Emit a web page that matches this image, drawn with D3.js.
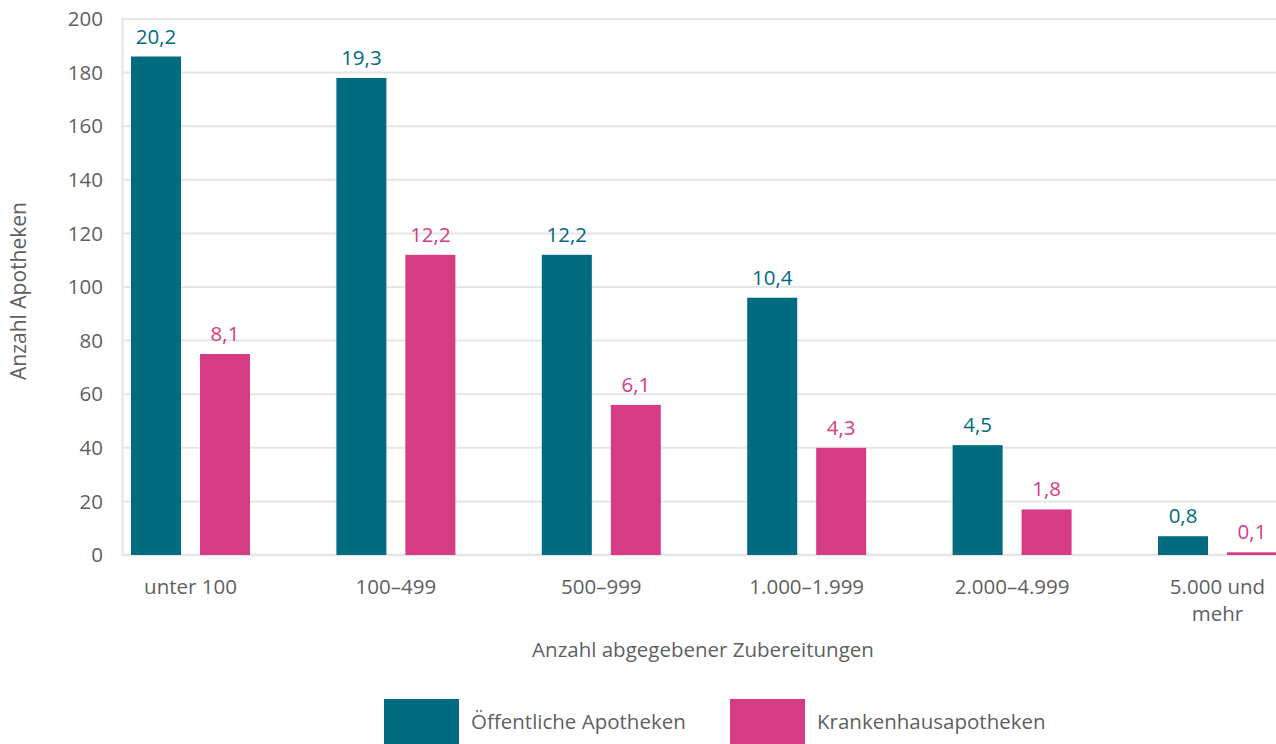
<!DOCTYPE html>
<html>
<head>
<meta charset="utf-8">
<script src="https://cdn.jsdelivr.net/npm/d3@7"></script>
<style>
  body { margin: 0; background: #fff; }
  svg { display: block; font-family: "Open Sans", sans-serif; }
</style>
</head>
<body>
<div id="chart"></div>
<script>
// Daten
var categories = ['unter 100', '100–499', '500–999', '1.000–1.999', '2.000–4.999', '5.000 und\nmehr'];
var seriesNames = ['Öffentliche Apotheken', 'Krankenhausapotheken'];
var oeffentlich = [186, 178, 112, 96, 41, 7];
var krankenhaus = [75, 112, 56, 40, 17, 1];
var oeffentlichLabels = ['20,2', '19,3', '12,2', '10,4', '4,5', '0,8'];
var krankenhausLabels = ['8,1', '12,2', '6,1', '4,3', '1,8', '0,1'];
var yTicks = [0, 20, 40, 60, 80, 100, 120, 140, 160, 180, 200];

var colors = ['#016c7f', '#d63c83'];
var W = 1276, H = 744;

var svg = d3.select('#chart').append('svg')
  .attr('width', W)
  .attr('height', H);

var y = d3.scaleLinear().domain([0, 200]).range([555, 19]);

var x0 = d3.scaleBand().domain(categories).range([87.8, 87.8 + 6 * 205.4]);
var x1 = d3.scaleBand().domain(seriesNames).range([x0.bandwidth() / 2 - 59.5, x0.bandwidth() / 2 + 59.5]).paddingInner(0.275);

// Gitterlinien
svg.append('g').selectAll('line')
  .data(yTicks)
  .join('line')
  .attr('x1', 122).attr('x2', W)
  .attr('y1', function(d) { return y(d); })
  .attr('y2', function(d) { return y(d); })
  .style('stroke', '#e6e6e6')
  .style('stroke-width', function(d) { return d === 0 ? 2.5 : 2; });

// y-Achse Linie
svg.append('line')
  .attr('x1', 122.5).attr('x2', 122.5)
  .attr('y1', y(200)).attr('y2', y(0) + 1)
  .style('stroke', '#e6e6e6')
  .style('stroke-width', 2);

// y-Achse Beschriftung
svg.append('g').selectAll('text')
  .data(yTicks)
  .join('text')
  .attr('x', 103)
  .attr('y', function(d) { return y(d); })
  .attr('dy', '0.35em')
  .attr('text-anchor', 'end')
  .style('font-size', '20.5px')
  .style('fill', '#5f5f5f')
  .text(function(d) { return d; });

svg.append('text')
  .attr('transform', 'translate(26,291) rotate(-90)')
  .attr('text-anchor', 'middle')
  .style('font-size', '21px')
  .style('fill', '#5f5f5f')
  .text('Anzahl Apotheken');

// Balken
var rows = categories.map(function(c, i) {
  return [
    { cat: c, s: seriesNames[0], v: oeffentlich[i], label: oeffentlichLabels[i], color: colors[0] },
    { cat: c, s: seriesNames[1], v: krankenhaus[i], label: krankenhausLabels[i], color: colors[1] }
  ];
});

var groups = svg.append('g').selectAll('g')
  .data(rows)
  .join('g')
  .attr('transform', function(d) { return 'translate(' + x0(d[0].cat) + ',0)'; });

groups.selectAll('rect')
  .data(function(d) { return d; })
  .join('rect')
  .attr('x', function(d) { return x1(d.s); })
  .attr('y', function(d) { return y(d.v); })
  .attr('width', x1.bandwidth())
  .attr('height', function(d) { return y(0) - y(d.v); })
  .style('fill', function(d) { return d.color; });

groups.selectAll('text')
  .data(function(d) { return d; })
  .join('text')
  .attr('x', function(d) { return x1(d.s) + x1.bandwidth() / 2; })
  .attr('y', function(d) { return y(d.v) - 13; })
  .attr('text-anchor', 'middle')
  .style('font-size', '20.5px')
  .style('fill', function(d) { return d.color; })
  .text(function(d) { return d.label; });

// x-Achse Beschriftung
var xLabels = svg.append('g').selectAll('text')
  .data(categories)
  .join('text')
  .attr('x', function(d) { return x0(d) + x0.bandwidth() / 2; })
  .attr('y', 594)
  .attr('text-anchor', 'middle')
  .style('font-size', '20.5px')
  .style('fill', '#5f5f5f');

xLabels.selectAll('tspan')
  .data(function(d) { return d.split('\n'); })
  .join('tspan')
  .attr('x', function() { return d3.select(this.parentNode).attr('x'); })
  .attr('dy', function(d, i) { return i === 0 ? 0 : 27; })
  .text(function(d) { return d; });

svg.append('text')
  .attr('x', 703)
  .attr('y', 657)
  .attr('text-anchor', 'middle')
  .style('font-size', '20.5px')
  .style('fill', '#5f5f5f')
  .text('Anzahl abgegebener Zubereitungen');

// Legende
var legendX = [384, 730];
var legend = svg.append('g').selectAll('g')
  .data(seriesNames)
  .join('g')
  .attr('transform', function(d, i) { return 'translate(' + legendX[i] + ',699)'; });

legend.append('rect')
  .attr('width', 75)
  .attr('height', 45)
  .style('fill', function(d, i) { return colors[i]; });

legend.append('text')
  .attr('x', 87)
  .attr('y', 23)
  .attr('dy', '0.35em')
  .style('font-size', '20.5px')
  .style('fill', '#5f5f5f')
  .text(function(d) { return d; });
</script>
</body>
</html>
